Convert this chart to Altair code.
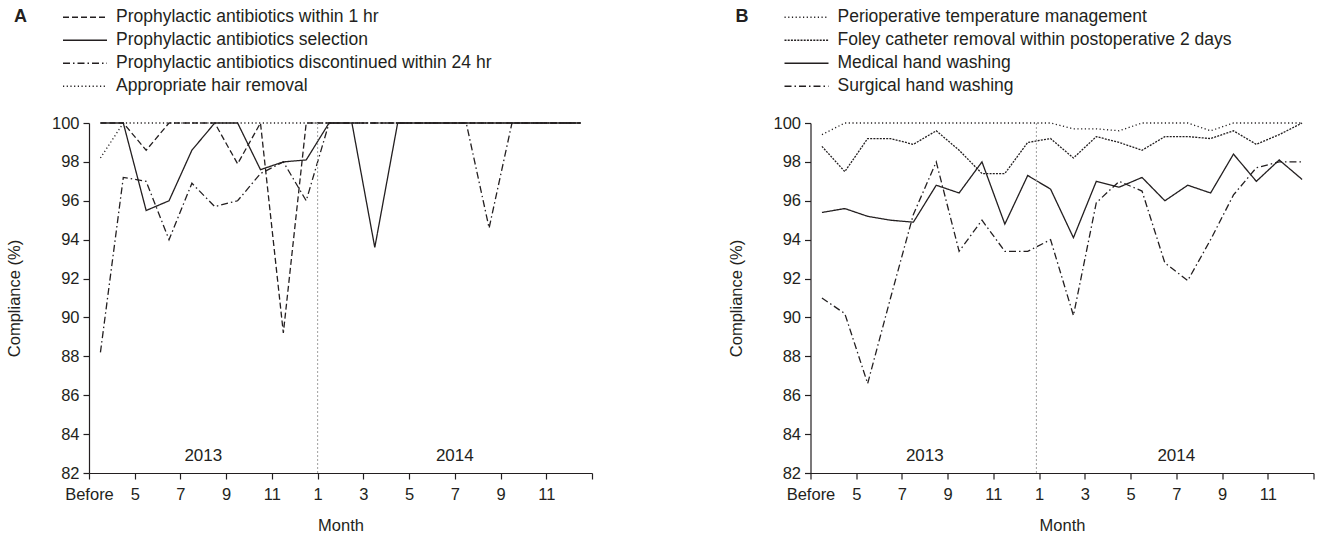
import altair as alt
import pandas as pd

INK = "#231f20"
FONT = "Liberation Sans"

# x positions of monthly observations (Before, Apr-Dec 2013, Jan-Dec 2014)
x_pos = [0.5, 1.5, 2.5, 3.5, 4.5, 5.5, 6.5, 7.5, 8.5, 9.5, 10.5,
         11.5, 12.5, 13.5, 14.5, 15.5, 16.5, 17.5, 18.5, 19.5, 20.5, 21.5]
tick_values = [0, 2, 4, 6, 8, 10, 12, 14, 16, 18, 20, 22]
tick_labels = ["Before", "5", "7", "9", "11", "1", "3", "5", "7", "9", "11", ""]
y_ticks = [82, 84, 86, 88, 90, 92, 94, 96, 98, 100]
years = ["2013", "2014"]
year_x = [5, 16]
year_y = [82.9, 82.9]

# Panel A
a_names = ["Prophylactic antibiotics within 1 hr",
           "Prophylactic antibiotics selection",
           "Prophylactic antibiotics discontinued within 24 hr",
           "Appropriate hair removal"]
a_within1hr = [100, 100, 98.6, 100, 100, 100, 97.9, 100, 89.2, 100, 100,
               100, 100, 100, 100, 100, 100, 100, 100, 100, 100, 100]
a_selection = [100, 100, 95.5, 96.0, 98.6, 100, 100, 97.6, 98.0, 98.1, 100,
               100, 93.6, 100, 100, 100, 100, 100, 100, 100, 100, 100]
a_discontinued = [88.2, 97.2, 97.0, 94.0, 96.9, 95.7, 96.0, 97.4, 98.0, 96.0, 100,
                  100, 100, 100, 100, 100, 100, 94.6, 100, 100, 100, 100]
a_hair = [98.2, 100, 100, 100, 100, 100, 100, 100, 100, 100, 100,
          100, 100, 100, 100, 100, 100, 100, 100, 100, 100, 100]
a_dashes = [[6, 3], [1, 0], [7, 3, 1.5, 3], [1.2, 2.5]]

# Panel B
b_names = ["Perioperative temperature management",
           "Foley catheter removal within postoperative 2 days",
           "Medical hand washing",
           "Surgical hand washing"]
b_temp = [99.4, 100, 100, 100, 100, 100, 100, 100, 100, 100, 100,
          99.7, 99.7, 99.6, 100, 100, 100, 99.6, 100, 100, 100, 100]
b_foley = [98.8, 97.5, 99.2, 99.2, 98.9, 99.6, 98.6, 97.4, 97.4, 99.0, 99.2,
           98.2, 99.3, 99.0, 98.6, 99.3, 99.3, 99.2, 99.6, 98.9, 99.4, 100]
b_medical = [95.4, 95.6, 95.2, 95.0, 94.9, 96.8, 96.4, 98.0, 94.8, 97.3, 96.6,
             94.1, 97.0, 96.7, 97.2, 96.0, 96.8, 96.4, 98.4, 97.0, 98.1, 97.1]
b_surgical = [91.0, 90.2, 86.6, 91.0, 95.3, 98.0, 93.4, 95.0, 93.4, 93.4, 94.0,
              90.1, 95.9, 97.0, 96.5, 92.8, 91.9, 94.0, 96.3, 97.7, 98.0, 98.0]
b_dashes = [[1.2, 2.5], [2, 1.2], [1, 0], [7, 3, 1.5, 3]]

label_expr = "[" + ",".join("'" + t + "'" for t in tick_labels) + "][round(datum.value / 2)]"

W, H = 503, 350
X_SCALE = alt.Scale(domain=[0, 22], nice=False, zero=False)
Y_SCALE = alt.Scale(domain=[82, 100], nice=False, zero=False)
X_AXIS = alt.Axis(values=tick_values, labelExpr=label_expr, title="Month",
                  titlePadding=15, labelPadding=7, labelOverlap=False, labelFlush=False)
Y_AXIS = alt.Axis(values=y_ticks, title="Compliance (%)", titlePadding=28.5,
                  labelPadding=4, labelOverlap=False, labelFlush=False)


def panel(letter, names, series, dashes, sep_x):
    rows = []
    for name, vals in zip(names, series):
        for x, v in zip(x_pos, vals):
            rows.append({"x": x, "value": v, "series": name})
    df = pd.DataFrame(rows)

    lines = alt.Chart(df).mark_line(color=INK, strokeWidth=1.3).encode(
        x=alt.X("x:Q", scale=X_SCALE, axis=X_AXIS),
        y=alt.Y("value:Q", scale=Y_SCALE, axis=Y_AXIS),
        strokeDash=alt.StrokeDash(
            "series:N",
            scale=alt.Scale(domain=names, range=dashes),
            legend=alt.Legend(orient="none", legendX=-27, legendY=-117, title=None,
                              symbolType="stroke", symbolSize=1936, clipHeight=22.5,
                              symbolStrokeColor=INK, symbolStrokeWidth=1.3,
                              labelFontSize=17.5, labelFont=FONT, labelColor=INK,
                              labelOffset=8, rowPadding=0, labelLimit=600),
        ),
    )

    sep = alt.Chart(pd.DataFrame({"x": [sep_x]})).mark_rule(
        color="#a0a0a0", strokeDash=[2, 2], strokeWidth=1
    ).encode(x=alt.X("x:Q", scale=X_SCALE, axis=X_AXIS), y=alt.value(0), y2=alt.value(H))

    yr = alt.Chart(pd.DataFrame({"x": year_x, "value": year_y, "t": years})).mark_text(
        fontSize=17, font=FONT, color=INK
    ).encode(x=alt.X("x:Q", scale=X_SCALE, axis=X_AXIS),
             y=alt.Y("value:Q", scale=Y_SCALE, axis=Y_AXIS), text="t:N")

    lab = alt.Chart(pd.DataFrame({"t": [letter]})).mark_text(
        fontSize=18, font=FONT, fontWeight="bold", color=INK, align="left", baseline="middle"
    ).encode(text="t:N", x=alt.value(-75), y=alt.value(-106))

    return alt.layer(lines, sep, yr, lab).properties(width=W, height=H)


pa = panel("A", a_names, [a_within1hr, a_selection, a_discontinued, a_hair], a_dashes, 10)
pb = panel("B", b_names, [b_temp, b_foley, b_medical, b_surgical], b_dashes, 9.88)

chart = alt.hconcat(pa, pb, spacing=134.5).resolve_scale(strokeDash="independent").properties(
    padding={"left": 6, "top": 6, "right": 5, "bottom": 5}
).configure_view(stroke=None).configure_axis(
    grid=False, domainColor=INK, tickColor=INK, labelColor=INK, titleColor=INK,
    labelFont=FONT, titleFont=FONT, labelFontSize=16.5, titleFontSize=16.5,
    titleFontWeight="normal", tickSize=6, domainWidth=1.2, tickWidth=1.2,
    labelOverlap=False
)

chart.save("out.html", embed_options={"renderer": "svg", "actions": False})
